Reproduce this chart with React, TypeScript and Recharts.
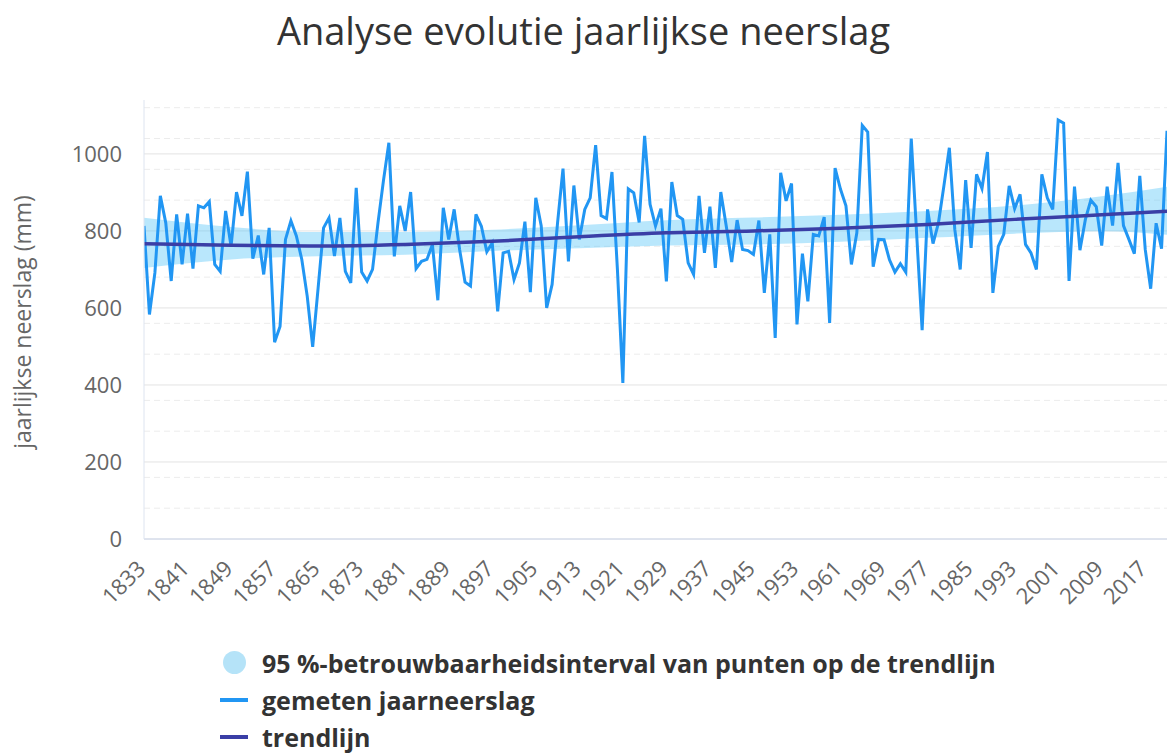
import { ComposedChart, Line, Area, XAxis, YAxis, CartesianGrid } from 'recharts';

const FIRST_YEAR = 1833;

// gemeten jaarneerslag (mm), 1833 t/m 2021
const RAINFALL = [
  813, 583, 691, 891, 821, 670, 843, 713, 845, 702,
  865, 860, 876, 713, 695, 852, 760, 901, 839, 954,
  728, 788, 687, 808, 511, 552, 778, 826, 787, 726,
  630, 499, 652, 808, 834, 735, 834, 695, 665, 912,
  693, 670, 700, 821, 930, 1029, 734, 865, 800, 901,
  702, 721, 726, 765, 620, 860, 778, 856, 752, 667,
  657, 843, 812, 746, 769, 591, 743, 747, 674, 717,
  824, 641, 886, 813, 600, 661, 821, 962, 721, 918,
  778, 856, 886, 1023, 840, 832, 953, 700, 405, 909,
  899, 822, 1047, 869, 813, 858, 669, 927, 840, 830,
  717, 687, 891, 743, 863, 704, 901, 813, 719, 828,
  752, 749, 739, 827, 639, 791, 522, 951, 878, 923,
  557, 741, 617, 791, 787, 836, 561, 963, 908, 865,
  713, 795, 1074, 1057, 707, 778, 777, 725, 693, 715,
  693, 1040, 790, 542, 856, 767, 821, 917, 1016, 804,
  700, 932, 756, 947, 910, 1005, 639, 760, 791, 917,
  858, 895, 765, 743, 700, 947, 886, 856, 1088, 1080,
  670, 915, 750, 830, 880, 863, 762, 915, 814, 977,
  814, 778, 741, 943, 752, 650, 820, 754, 1060,
];

const TREND_YEARS = [1833, 1849, 1865, 1881, 1897, 1913, 1929, 1945, 1961, 1977, 1993, 2009, 2021];
const TREND = [767, 763, 761, 765, 773, 785, 795, 800, 807, 817, 830, 842, 851];
const BAND_LOW = [704, 726, 734, 738, 748, 755, 762, 765, 772, 782, 793, 799, 790];
const BAND_HIGH = [834, 810, 797, 797, 803, 815, 828, 835, 842, 852, 866, 890, 915];

const X_TICKS = [1833, 1841, 1849, 1857, 1865, 1873, 1881, 1889, 1897, 1905, 1913, 1921, 1929,
  1937, 1945, 1953, 1961, 1969, 1977, 1985, 1993, 2001, 2009, 2017];
const Y_TICKS = [0, 200, 400, 600, 800, 1000];
const MINOR_GRID = [40, 80, 120, 160, 240, 280, 320, 360, 440, 480, 520, 560, 640, 680, 720, 760,
  840, 880, 920, 960, 1040, 1080, 1120];

const rainData = RAINFALL.map((v, i) => ({ year: FIRST_YEAR + i, rain: v }));
const trendData = TREND_YEARS.map((y, i) => ({
  year: y,
  trend: TREND[i],
  band: [BAND_LOW[i], BAND_HIGH[i]],
}));

const FONT = '"Open Sans", "DejaVu Sans", sans-serif';
const RAIN_COLOR = '#2196f3';
const TREND_COLOR = '#3a3ea6';
const BAND_COLOR = '#4fc3f7';

function YearTick({ x, y, payload }: any) {
  const tx = x + 3;
  const ty = y + 23;
  return (
    <text
      x={tx}
      y={ty}
      transform={`rotate(-45 ${tx} ${ty})`}
      textAnchor="end"
      fill="#666"
      fontSize={22}
      fontFamily={FONT}
    >
      {payload.value}
    </text>
  );
}

function LegendRow({ symbol, label }: { symbol: React.ReactNode; label: string }) {
  return (
    <div style={{ display: 'flex', alignItems: 'center', height: 37, lineHeight: '26px' }}>
      <div style={{ width: 42, display: 'flex', alignItems: 'center' }}>{symbol}</div>
      <span style={{ fontSize: 25, fontWeight: 700, color: '#333' }}>{label}</span>
    </div>
  );
}

export default function App() {
  return (
    <div
      style={{
        position: 'absolute',
        left: 0,
        top: 0,
        width: 1167,
        height: 753,
        background: '#fff',
        fontFamily: FONT,
        overflow: 'hidden',
      }}
    >
      <div
        style={{
          position: 'absolute',
          top: 4,
          width: '100%',
          textAlign: 'center',
          fontSize: 38,
          color: '#333',
        }}
      >
        Analyse evolutie jaarlijkse neerslag
      </div>
      <div
        style={{
          position: 'absolute',
          left: 22,
          top: 322,
          transform: 'translate(-50%, -50%) rotate(-90deg)',
          whiteSpace: 'nowrap',
          fontSize: 23,
          color: '#666',
        }}
      >
        jaarlijkse neerslag (mm)
      </div>
      <ComposedChart
        width={1167}
        height={640}
        margin={{ top: 100, right: 0, bottom: 0, left: 0 }}
        style={{ position: 'absolute', left: 0, top: 0 }}
      >
        <CartesianGrid
          horizontalValues={MINOR_GRID}
          vertical={false}
          stroke="#ececec"
          strokeDasharray="6 4"
        />
        <CartesianGrid horizontalValues={Y_TICKS} vertical={false} stroke="#e3e3e3" />
        <XAxis
          type="number"
          dataKey="year"
          domain={[1833, 2021]}
          ticks={X_TICKS}
          interval={0}
          allowDataOverflow
          height={101}
          tickLine={false}
          axisLine={{ stroke: '#ccd6eb' }}
          tick={<YearTick />}
        />
        <YAxis
          type="number"
          domain={[0, 1140]}
          ticks={Y_TICKS}
          width={144}
          allowDataOverflow
          tickLine={false}
          tickMargin={16}
          axisLine={{ stroke: '#dde4f0' }}
          tick={{ fill: '#666', fontSize: 22, fontFamily: FONT }}
        />
        <Area
          data={trendData}
          dataKey="band"
          type="monotone"
          stroke="none"
          fill={BAND_COLOR}
          fillOpacity={0.4}
          isAnimationActive={false}
        />
        <Line
          data={rainData}
          dataKey="rain"
          type="linear"
          stroke={RAIN_COLOR}
          strokeWidth={3}
          dot={false}
          isAnimationActive={false}
        />
        <Line
          data={trendData}
          dataKey="trend"
          type="monotone"
          stroke={TREND_COLOR}
          strokeWidth={3.5}
          dot={false}
          isAnimationActive={false}
        />
      </ComposedChart>
      <div style={{ position: 'absolute', left: 220, top: 644 }}>
        <LegendRow
          symbol={
            <span
              style={{
                display: 'inline-block',
                width: 23,
                height: 23,
                marginLeft: 3,
                borderRadius: '50%',
                background: '#b5e3f8',
              }}
            />
          }
          label="95 %-betrouwbaarheidsinterval van punten op de trendlijn"
        />
        <LegendRow
          symbol={<span style={{ display: 'inline-block', width: 28, height: 4, background: RAIN_COLOR }} />}
          label="gemeten jaarneerslag"
        />
        <LegendRow
          symbol={<span style={{ display: 'inline-block', width: 28, height: 4, background: TREND_COLOR }} />}
          label="trendlijn"
        />
      </div>
    </div>
  );
}
